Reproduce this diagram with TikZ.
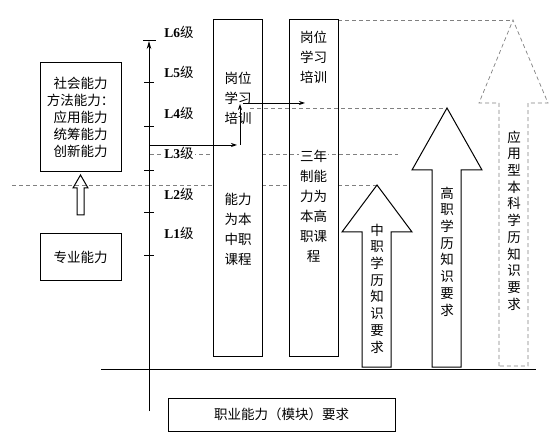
\documentclass[tikz,border=0pt]{standalone}
\usepackage{fontspec}
\setmainfont{Noto Sans CJK SC}
\newfontfamily\lvlfont{Liberation Serif}
\usetikzlibrary{arrows.meta}

\begin{document}
\begin{tikzpicture}[x=1pt,y=-1pt,line width=0.8pt,
  every node/.style={font=\fontsize{13.5}{17}\selectfont},
  sidebox/.style={draw,line width=1pt,align=center,inner sep=0pt},
  colbox/.style={draw,line width=1pt,minimum width=49pt,minimum height=337pt,inner sep=0pt},
  coltext/.style={align=center,inner sep=1pt,font=\fontsize{13.5}{20}\selectfont},
  arrtext/.style={align=center,inner sep=0pt,font=\fontsize{13.5}{16.7}\selectfont},
  lvl/.style={inner sep=1pt,fill=white},
  guide/.style={gray,line width=0.7pt,dash pattern=on 4pt off 3pt},
  hollow/.style={draw,line width=1pt,line join=miter},
  feed/.style={-{Stealth[length=6pt,width=4pt]}}]
  \useasboundingbox (0,0) rectangle (557,438);

  %% Dashed level guides
  \draw[guide] (12,185) -- (213,185);
  \draw[guide] (262,185) -- (289,185);
  \draw[guide] (338,185) -- (377,185);
  \draw[guide] (150,154) -- (213,154);
  \draw[guide] (262,154) -- (398,154);
  \draw[guide] (250,108) -- (447,108);
  \draw[guide] (338,20) -- (513,20);

  %% Level axis with ticks
  \draw[-{Stealth[length=8pt,width=4.5pt]}] (149,411) -- (149,41);
  \draw (143,40) -- (156,40);
  \foreach \y in {82,126,170,212,255}
    \draw (144,\y) -- (154,\y);
  \node[lvl] (l6) at (179,32) {{\lvlfont\bfseries L6}级};
  \node[lvl] (l5) at (179,72) {{\lvlfont\bfseries L5}级};
  \node[lvl] (l4) at (179,113) {{\lvlfont\bfseries L4}级};
  \node[lvl] (l3) at (179,153) {{\lvlfont\bfseries L3}级};
  \node[lvl] (l2) at (179,194) {{\lvlfont\bfseries L2}级};
  \node[lvl] (l1) at (179,233) {{\lvlfont\bfseries L1}级};

  %% Base line
  \draw (101,369) -- (536,369);

  %% Left side boxes
  \node[sidebox,minimum width=81pt,minimum height=109pt] (shehui) at (80.5,117.5)
    {社会能力\\方法能力：\\应用能力\\统筹能力\\创新能力};
  \node[sidebox,minimum width=81pt,minimum height=47pt] (zhuanye) at (80.5,257.5) {专业能力};
  \draw[hollow] (77,215) -- (77,188) -- (73,188) -- (80.5,175)
    -- (88,188) -- (84,188) -- (84,215) -- cycle;

  %% Course columns
  \node[colbox] (zhongzhi) at (237.5,188.5) {};
  \node[colbox] (gaozhi) at (313.5,188.5) {};
  \node[coltext] (zzpost) at (238,98) {岗位\\学习\\培训};
  \node[coltext] (zzcourse) at (238,229) {能力\\为本\\中职\\课程};
  \node[coltext] (gzpost) at (313.5,57) {岗位\\学习\\培训};
  \node[coltext,fill=white] (gzcourse) at (313.5,206.5) {三年\\制能\\力为\\本高\\职课\\程};

  %% Step up from L3 into post training
  \coordinate (s1) at (149,145);
  \coordinate (s2) at (237,145);
  \coordinate (s3) at (240,145);
  \coordinate (s4) at (240,104);
  \coordinate (s5) at (243,103);
  \coordinate (s6) at (305,103);
  \draw[feed] (s1) -- (s2);
  \draw[feed] (s3) -- (s4);
  \draw[feed] (s5) -- (s6);

  %% Knowledge arrows
  \draw[hollow] (362,367) -- (362,232) -- (342,232) -- (377,185)
    -- (412,232) -- (391,232) -- (391,367) -- cycle;
  \node[arrtext] (zzknow) at (377,288.5) {中\\职\\学\\历\\知\\识\\要\\求};
  \draw[hollow] (432,367) -- (432,170) -- (412,170) -- (447,108)
    -- (482,170) -- (461,170) -- (461,367) -- cycle;
  \node[arrtext] (gzknow) at (447,251.5) {高\\职\\学\\历\\知\\识\\要\\求};
  \draw[guide] (499,366) -- (499,103) -- (479,103) -- (513,20)
    -- (548,103) -- (528,103) -- (528,366) -- cycle;
  \node[arrtext] (bkknow) at (514,220.5) {应\\用\\型\\本\\科\\学\\历\\知\\识\\要\\求};

  %% Bottom caption box
  \node[sidebox,minimum width=227pt,minimum height=33pt] (req) at (281.5,414.5)
    {职业能力（模块）要求};
\end{tikzpicture}
\end{document}
